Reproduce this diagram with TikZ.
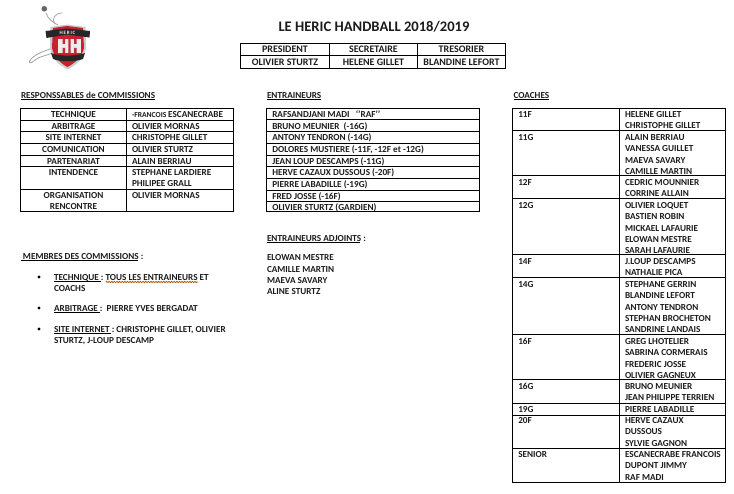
\documentclass[tikz,border=0pt]{standalone}
\usepackage{fontspec}
\setmainfont{Carlito}
\usetikzlibrary{decorations.pathmorphing}
\definecolor{ink}{HTML}{1c1c1c}
\definecolor{shieldred}{HTML}{C8202C}
\tikzset{
 x=1pt,y=-1pt,
 rule/.style={line width=1pt,black},
 txt/.style={inner sep=0pt,outer sep=0pt,text=ink,font=\fontsize{9.2}{9.2}\selectfont\bfseries},
 lft/.style={txt,anchor=base west},
 ctr/.style={txt,anchor=base},
 off/.style={ctr,font=\fontsize{10}{10}\selectfont\bfseries},
 ul/.style={line width=0.8pt,black},
 limb/.style={gray!70,line width=.8pt},
}
\newcommand{\tl}[3]{\node[lft] at (#1,#2+3.7) {#3};}
\newcommand{\tc}[3]{\node[ctr] at (#1,#2+3.7) {#3};}
\newcommand{\tf}[3]{\node[off] at (#1,#2+3.8) {#3};}
\begin{document}
\begin{tikzpicture}
\useasboundingbox (0,0) rectangle (734,494);
\fill[white] (0,0) rectangle (734,494);
% logo
\begin{scope}[line cap=round]
\fill[gray!80!black] (44.3,8.8) circle (2.8);
\draw[limb] (46,13) .. controls (48,19) and (52,22) .. (58,25) (55,24) .. controls (51,19) and (55,13) .. (62,13);
\draw[limb] (52,48) .. controls (44,52) and (38,52) .. (31,59) .. controls (27,64) and (31,64) .. (35,60) .. controls (40,56) and (46,56) .. (55,52);
\fill[gray!40] (50.5,27) -- (67,24.5) -- (85.5,27) -- (86,48) .. controls (84,59) and (76,65) .. (67.5,69.5) .. controls (59,65) and (52,59) .. (50,48) -- cycle;
\fill[shieldred] (53,28) -- (67,26) -- (83,28) -- (84,48) .. controls (82,57) and (75,63) .. (67.5,67) .. controls (60,63) and (54,57) .. (52,48) -- cycle;
\fill[black!85] (45.5,31) -- (67,28.5) -- (90,31) -- (89.5,37.5) -- (67,34.5) -- (46.5,38) -- cycle;
\fill[black!85] (51,53) .. controls (60,56.5) and (75,56.5) .. (85,53) -- (83,59) .. controls (75,62) and (60,62) .. (53,59) -- cycle;
\node[inner sep=0pt,text=white!85!gray,font=\fontsize{5}{5}\selectfont\bfseries] (heric) at (67.5,33) {H\,E\,R\,I\,C};
\fill[white!85!gray] (58,39) rectangle (81,53);
\fill[shieldred!85!gray] (62.5,39) rectangle (65,44) (62.5,48) rectangle (65,53) (74,39) rectangle (76.5,44) (74,48) rectangle (76.5,53) (68.3,39) rectangle (70.7,53);
\end{scope}
% title
\node[ctr,font=\fontsize{14.6}{14.6}\selectfont\bfseries] (title) at (374,32) {LE HERIC HANDBALL 2018/2019};
% officers
\draw[rule] (240.3,43.3) rectangle (505.7,68.3);
\draw[rule] (240.3,55.7) -- (505.7,55.7) (329,43.3) -- (329,68.3) (417.7,43.3) -- (417.7,68.3);
\tf{285}{49}{PRESIDENT}\tf{373.5}{49}{SECRETAIRE}\tf{461.5}{49}{TRESORIER}
\tf{285}{62}{OLIVIER STURTZ}\tf{373.5}{62}{HELENE GILLET}\tf{461.5}{62}{BLANDINE LEFORT}
% headings
\tl{21}{95}{RESPONSSABLES de COMMISSIONS}
\draw[ul] (21,99.5) -- (155,99.5);
\tl{267}{95}{ENTRAINEURS}
\draw[ul] (267,99.5) -- (321,99.5);
\tl{513.5}{95}{COACHES}
\draw[ul] (513.5,99.5) -- (549,99.5);
% table 1
\draw[rule] (20.5,108.5) rectangle (233.5,211.5);
\draw[rule] (126.5,108.5) -- (126.5,211.5);
\foreach \y in {120.5,131.5,143.5,155.5,166.5,189.5} \draw[rule] (20.5,\y) -- (233.5,\y);
\tc{73.5}{114}{TECHNIQUE}\tc{73.5}{126}{ARBITRAGE}\tc{73.5}{137}{SITE INTERNET}\tc{73.5}{149}{COMUNICATION}\tc{73.5}{161}{PARTENARIAT}\tc{73.5}{172}{INTENDENCE}\tc{73.5}{195}{ORGANISATION}\tc{73.5}{206}{RENCONTRE}
\tl{132}{114}{{\fontsize{7.6}{7.6}\selectfont -FRANCOIS }ESCANECRABE}
\tl{132}{126}{OLIVIER MORNAS}\tl{132}{137}{CHRISTOPHE GILLET}\tl{132}{149}{OLIVIER STURTZ}\tl{132}{161}{ALAIN BERRIAU}\tl{132}{172}{STEPHANE LARDIERE}\tl{132}{183}{PHILIPEE GRALL}\tl{132}{195}{OLIVIER MORNAS}
% table 2
\draw[rule] (266,108.3) rectangle (479.3,212);
\foreach \y in {120,131.7,143.3,155.7,166.7,178.3,190.3,201.7} \draw[rule] (266,\y) -- (479.3,\y);
\tl{272.3}{114}{RAFSANDJANI MADI \ \ ‘’RAF’’}
\tl{272.3}{126}{BRUNO MEUNIER \ (-16G)}
\tl{272.3}{137}{ANTONY TENDRON (-14G)}
\tl{272.3}{149}{DOLORES MUSTIERE (-11F, -12F et -12G)}
\tl{272.3}{161}{JEAN LOUP DESCAMPS (-11G)}
\tl{272.3}{172}{HERVE CAZAUX DUSSOUS (-20F)}
\tl{272.3}{184}{PIERRE LABADILLE (-19G)}
\tl{272.3}{196}{FRED JOSSE (-16F)}
\tl{272.3}{207}{OLIVIER STURTZ (GARDIEN)}
% adjoints
\tl{267}{238}{ENTRAINEURS ADJOINTS :}
\draw[ul] (267,242.5) -- (360,242.5);
\tl{267}{257}{ELOWAN MESTRE}\tl{267}{269}{CAMILLE MARTIN}\tl{267}{280}{MAEVA SAVARY}\tl{267}{291}{ALINE STURTZ}
% membres
\tl{23}{256}{MEMBRES DES COMMISSIONS :}
\draw[ul] (21,260.5) -- (138,260.5);
\foreach \y in {277,308,329} \fill[black] (39,\y) circle (1.7);
\tl{54}{277}{TECHNIQUE : TOUS LES ENTRAINEURS ET}
\tl{54}{288}{COACHS}
\tl{54}{308}{ARBITRAGE : \ PIERRE YVES BERGADAT}
\tl{54}{329}{SITE INTERNET : CHRISTOPHE GILLET, OLIVIER}
\tl{54}{340}{STURTZ, J-LOUP DESCAMP}
\draw[ul] (54,281.5) -- (100.5,281.5) (54,312.5) -- (100,312.5) (54,333.5) -- (111,333.5);
\draw[line width=.8pt,color=orange!70!black,decorate,decoration={zigzag,segment length=2.6pt,amplitude=.6pt}] (106,282) -- (198,282);
% coaches
\draw[rule] (512.3,108.3) rectangle (725.7,482);
\draw[rule] (619.3,108.3) -- (619.3,482);
\foreach \y in {131,176,198.7,255,277.7,334.3,380,403.3,415,448.7} \draw[rule] (512.3,\y) -- (725.7,\y);
\foreach \y/\s in {114/11F,137/11G,182/12F,205/12G,261/14F,284/14G,341/16F,386/16G,409/19G,420/20F,454/SENIOR} \tl{518.3}{\y}{\s};
\foreach \y/\s in {114/HELENE GILLET,125/CHRISTOPHE GILLET,137/ALAIN BERRIAU,148/VANESSA GUILLET,160/MAEVA SAVARY,171/CAMILLE MARTIN,182/CEDRIC MOUNNIER,193/CORRINE ALLAIN,205/OLIVIER LOQUET,216/BASTIEN ROBIN,228/MICKAEL LAFAURIE,239/ELOWAN MESTRE,250/SARAH LAFAURIE,261/J.LOUP DESCAMPS,272/NATHALIE PICA,284/STEPHANE GERRIN,295/BLANDINE LEFORT,307/ANTONY TENDRON,318/STEPHAN BROCHETON,329/SANDRINE LANDAIS,341/GREG LHOTELIER,352/SABRINA CORMERAIS,364/FREDERIC JOSSE,375/OLIVIER GAGNEUX,386/BRUNO MEUNIER,397/JEAN PHILIPPE TERRIEN,409/PIERRE LABADILLE,420/HERVE CAZAUX,431/DUSSOUS,443/SYLVIE GAGNON,454/ESCANECRABE FRANCOIS,465/DUPONT JIMMY,477/RAF MADI} \tl{625}{\y}{\s};
\end{tikzpicture}
\end{document}
